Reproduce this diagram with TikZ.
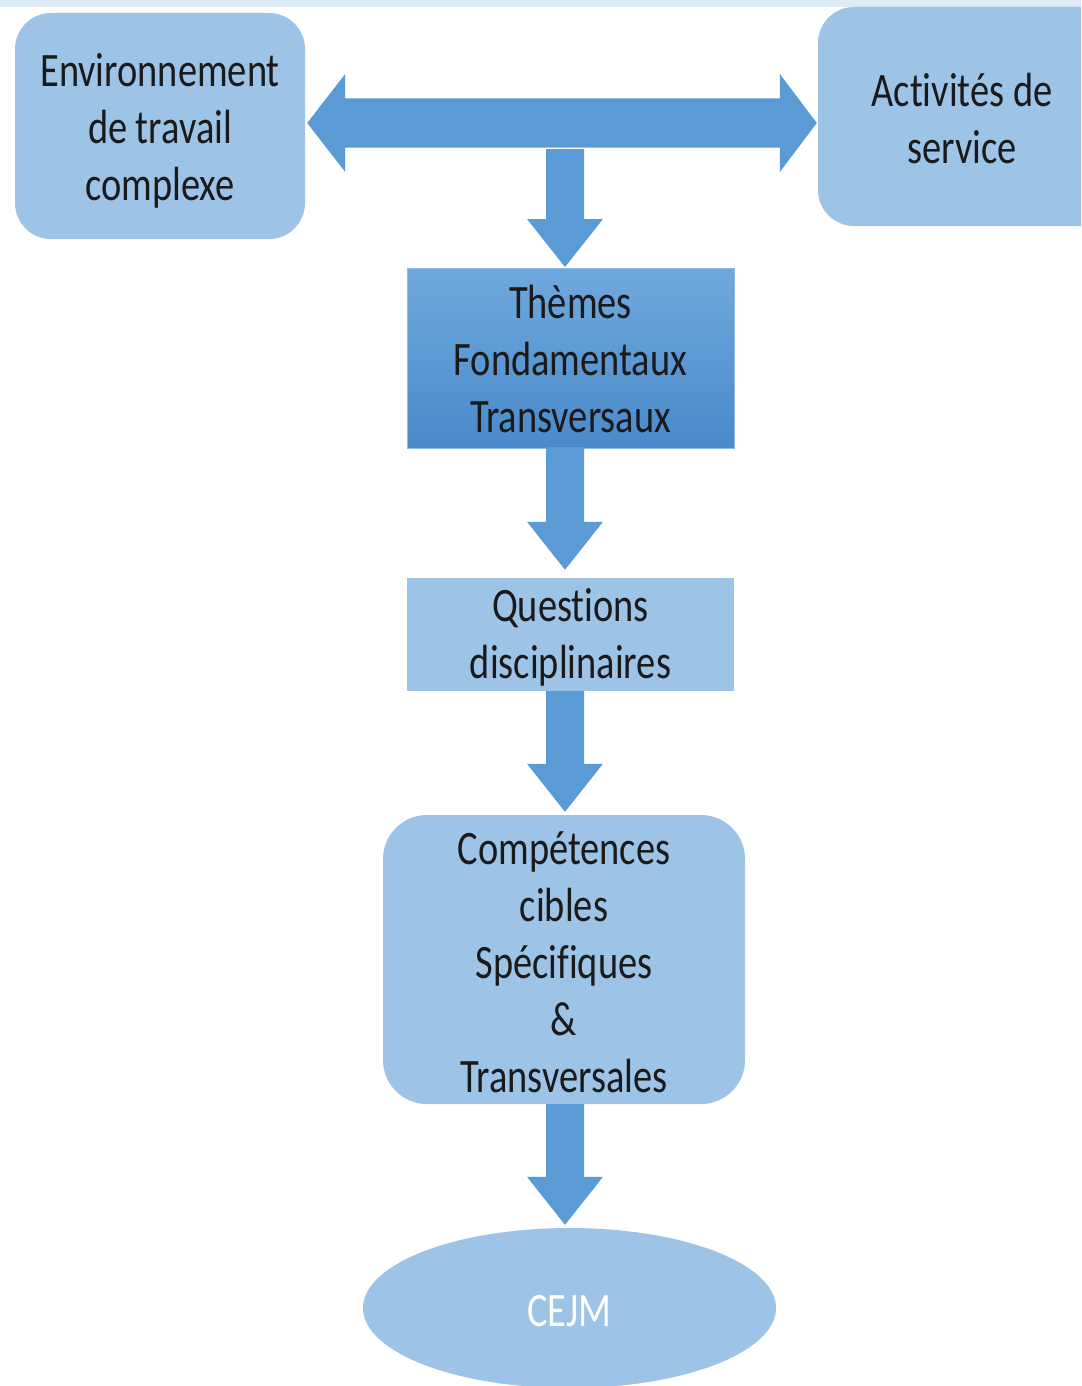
\documentclass[tikz,border=0pt]{standalone}
\usepackage{fontspec}
\setmainfont{Carlito}[FakeStretch=0.8, Ligatures=NoCommon]
\usetikzlibrary{calc,shapes.geometric}

\definecolor{boxblue}{HTML}{9DC3E6}
\definecolor{arrowblue}{HTML}{5B9BD5}
\definecolor{themetop}{HTML}{6FA8DD}
\definecolor{themebot}{HTML}{4A8ACA}
\definecolor{bandblue}{HTML}{DDEBF7}
\definecolor{inkdark}{HTML}{1A1A1A}

% Vertical block arrow from #1 down to #2, centred on the x of #3, tip #4 pt above #2
\newcommand\flowarrow[4]{%
  \path[arrowblock] let \p1=(#1), \p2=(#2), \p3=(#3) in
    (\x3-19pt,\y1) -- (\x3+19pt,\y1) -- (\x3+19pt,\y2+#4pt+48pt)
    -- (\x3+38pt,\y2+#4pt+48pt) -- (\x3,\y2+#4pt) -- (\x3-38pt,\y2+#4pt+48pt)
    -- (\x3-19pt,\y2+#4pt+48pt) -- cycle;}

\begin{document}
\begin{tikzpicture}[x=1pt,y=-1pt,
  every node/.style={font=\fontsize{48}{57}\selectfont, text=inkdark, align=center, inner sep=0pt},
  softbox/.style={fill=boxblue, rounded corners=36pt},
  flatbox/.style={fill=boxblue},
  themebox/.style={top color=themetop, bottom color=themebot, draw=themetop!80!white, line width=1pt},
  arrowblock/.style={fill=arrowblue}]
\useasboundingbox (0,0) rectangle (1081,1386);
\clip (0,0) rectangle (1081,1386);
\fill[white] (0,0) rectangle (1081,1386);
\fill[bandblue] (0,0) rectangle (1081,7);

% top row
\node[softbox, minimum width=290pt, minimum height=226pt] (env) at (160,126) {};
\node (envtext) at (160,131) {Environnement\\de travail\\complexe};
\node[softbox, minimum width=300pt, minimum height=219pt] (act) at (968,116.5) {};
\node (acttext) at (962,119) {Activités de\\service};
\coordinate (hub) at (565,123);
\coordinate (hubbot) at (565,147);

% column of boxes
\node[themebox, minimum width=327pt, minimum height=180pt] (themes) at (570.5,358.5) {};
\node (themestext) at (570.5,359.5) {Thèmes\\Fondamentaux\\Transversaux};
\node[flatbox, minimum width=327pt, minimum height=113pt] (quest) at (570.5,634.5) {};
\node (questtext) at (570.5,637.5) {Questions\\disciplinaires};
\node[softbox, rounded corners=44pt, minimum width=362pt, minimum height=289pt] (comp) at (564,959.5) {};
\node (comptext) at (564,962.5) {Compétences\\cibles\\Spécifiques\\\&\\Transversales};
\node[ellipse, fill=boxblue, minimum width=413pt, minimum height=160pt] (cejm) at (569.5,1308) {};
\node[text=white] (cejmtext) at (569.5,1311) {CEJM};

% double arrow between the two top boxes
\path[arrowblock] let \p1=(env.east), \p2=(act.west), \p3=(hub) in
  (\x1+2pt,\y3) -- (\x1+40pt,\y3+49pt) -- (\x1+40pt,\y3+24.5pt)
  -- (\x2-38pt,\y3+24.5pt) -- (\x2-38pt,\y3+49pt) -- (\x2-1pt,\y3)
  -- (\x2-38pt,\y3-49pt) -- (\x2-38pt,\y3-24.5pt) -- (\x1+40pt,\y3-24.5pt)
  -- (\x1+40pt,\y3-49pt) -- cycle;

% downward flow
\flowarrow{$(hubbot)+(0,2)$}{themes.north}{hub}{1}
\flowarrow{$(themes.south)+(0,-2)$}{quest.north}{hub}{8}
\flowarrow{quest.south}{comp.north}{hub}{3}
\flowarrow{comp.south}{cejm.north}{hub}{3}
\end{tikzpicture}
\end{document}
